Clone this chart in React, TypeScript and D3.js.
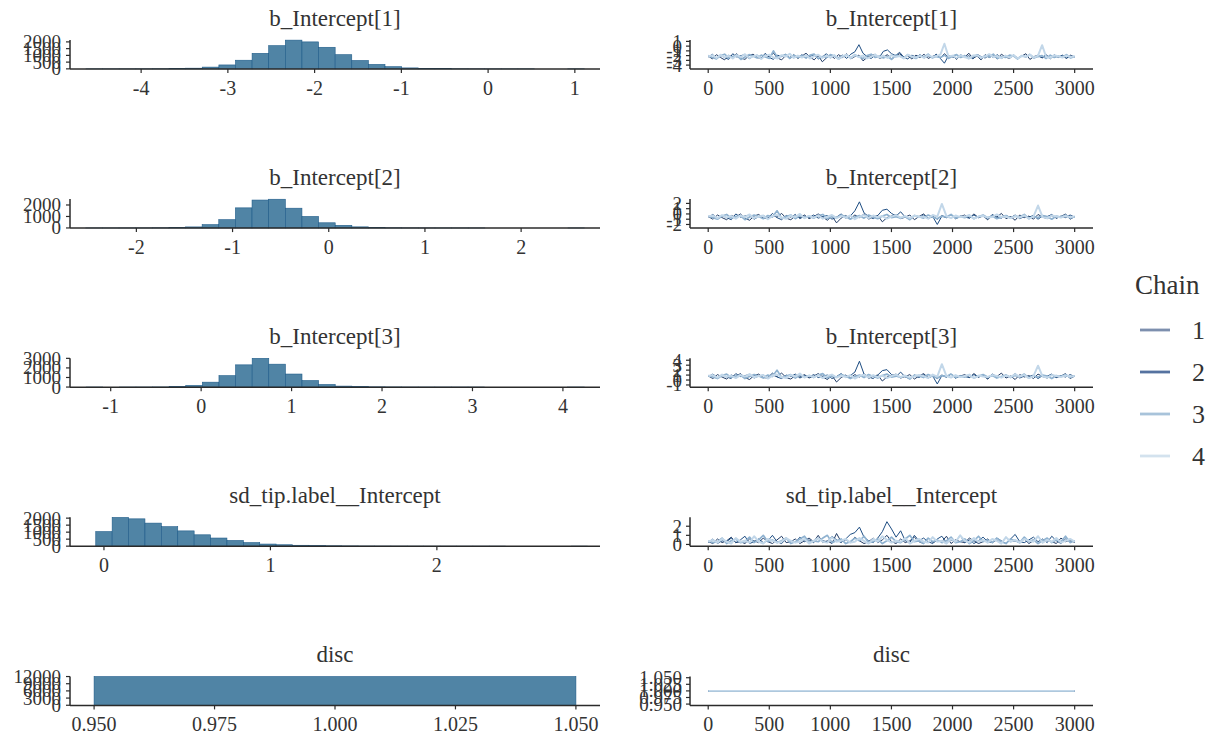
import React from "react";
import * as d3 from "d3";

const W = 1215;
const H = 740;

const paramNames = ["b_Intercept[1]", "b_Intercept[2]", "b_Intercept[3]", "sd_tip.label__Intercept", "disc"];
const chainLabels = ["1", "2", "3", "4"];
const chainColors = ["#203b66", "#1c4c82", "#8fb2d0", "#c2d7e9"];
const chainWidths = [1.0, 1.0, 1.7, 2.0];
const legendColors = ["#7d8fae", "#5572a0", "#a8c3da", "#d3e2ee"];

// axis domains of each parameter (x of histogram, y of trace)
const paramDomains = [[-4.82, 1.29], [-2.69, 2.82], [-1.45, 4.41], [-0.204, 2.98], [0.945, 1.055]];
const binStarts = [-4.54, -2.44, -1.18, 0.0, 1.0];
const binWidths = [0.1915, 0.1729, 0.1836, 0.0985, 0.1];

const countsB1 = [1, 2, 3, 5, 10, 20, 50, 130, 290, 640, 1150, 1720, 2130, 2000, 1600, 1050, 620, 330, 160, 70, 35, 15, 8, 4, 2, 1, 1, 0, 0, 1];
const countsB2 = [1, 1, 3, 6, 15, 35, 90, 290, 720, 1750, 2430, 2500, 1720, 1000, 450, 230, 95, 40, 15, 7, 3, 2, 1, 1, 0, 0, 0, 0, 0, 1];
const countsB3 = [1, 0, 1, 3, 10, 40, 170, 510, 1190, 2320, 3000, 2390, 1360, 680, 270, 100, 45, 20, 10, 5, 3, 2, 1, 1, 0, 0, 0, 0, 0, 1];
const countsSd = [1040, 2050, 1950, 1645, 1390, 1090, 810, 580, 405, 255, 150, 100, 63, 38, 25, 16, 10, 7, 5, 3, 2, 2, 1, 1, 1, 0, 0, 0, 0, 1];
const countsDisc = [12000];
const histCounts = [countsB1, countsB2, countsB3, countsSd, countsDisc];

const histXTicks = [[-4, -3, -2, -1, 0, 1], [-2, -1, 0, 1, 2], [-1, 0, 1, 2, 3, 4], [0, 1, 2], [0.95, 0.975, 1.0, 1.025, 1.05]];
const histYTicks = [[0, 500, 1000, 1500, 2000], [0, 1000, 2000], [0, 1000, 2000, 3000], [0, 500, 1000, 1500, 2000], [0, 3000, 6000, 9000, 12000]];
const traceXTicks = [0, 500, 1000, 1500, 2000, 2500, 3000];
const nIter = 3000;

// trace values per chain, read along the 3000 iterations
const b1C1 = [-2.1,-2.7,-1.8,-2.4,-2.9,-1.9,-2.3,-1.6,-2.5,-2.8,-2.0,-1.7,-2.4,-2.6,-1.9,-2.2,-1.5,-2.5,-2.9,-2.0,-2.4,-1.8,-2.6,-2.1,-1.5,-2.3,-2.9,-2.0,-3.3,-2.5,-1.9,-2.6,-1.8,-2.4,-1.6,-2.7,-2.2,-1.9,-3.1,-2.4,-2.0,-1.7,-2.6,-2.3,-1.8,-2.8,-2.1,-1.6,-2.5,-2.0,-2.7,-1.9,-2.4,-1.7,-2.6,-2.2,-1.8,-2.5,-1.6,-2.4,-2.0,-2.8,-1.9,-2.3,-1.5,-2.6,-2.1,-2.9,-1.8,-2.4,-2.0,-2.7,-1.7,-2.3,-2.6,-1.9,-2.5,-2.1,-1.6,-2.8,-2.2,-1.9,-2.5,-2.0,-2.7,-1.8,-2.4,-2.1,-2.6,-1.9,-2.3];
const b1C2 = [-2.3,-1.7,-2.6,-1.9,-2.4,-2.8,-1.6,-2.3,-2.0,-1.8,-2.7,-2.1,-1.9,-2.5,-1.5,-2.4,-2.8,-1.9,-2.2,-1.7,-2.6,-2.0,-2.4,-1.8,-2.5,-2.1,-1.9,-2.7,-2.3,-1.6,-2.5,-2.0,-2.4,-1.9,-2.6,-1.7,-1.2,0.3,-1.5,-2.2,-2.6,-1.9,-2.4,-1.1,-0.8,-1.6,-2.0,-1.3,-2.3,-2.7,-1.9,-2.3,-1.8,-2.5,-2.1,-2.4,-1.7,-2.6,-3.6,-2.0,-2.3,-2.5,-1.8,-2.4,-2.0,-2.7,-1.7,-2.2,-2.5,-1.9,-2.4,-1.8,-2.6,-2.1,-2.3,-1.9,-2.7,-2.0,-2.2,-1.7,-2.5,-2.1,-2.4,-1.8,-2.6,-2.0,-2.3,-1.9,-2.5,-2.1,-2.2];
const b1C3 = [-2.0,-2.4,-2.7,-2.0,-1.7,-2.5,-2.2,-1.9,-2.8,-2.3,-1.8,-2.1,-2.5,-1.9,-2.3,-2.6,-1.0,-2.4,-2.1,-1.8,-2.6,-1.9,-2.4,-2.0,-2.5,-1.9,-1.7,-2.6,-2.2,-2.4,-1.8,-2.1,-2.7,-2.2,-1.9,-2.5,-1.8,-2.3,-2.6,-2.0,-1.7,-2.4,-2.1,-2.5,-2.2,-2.8,-1.9,-2.1,-2.5,-1.8,-2.3,-2.6,-2.0,-2.3,-1.7,-2.5,-2.2,-2.4,-1.9,-2.6,-2.1,-1.8,-2.4,-2.0,-2.6,-2.2,-1.9,-2.5,-2.0,-2.3,-1.7,-2.6,-2.2,-2.4,-1.9,-2.1,-2.7,-2.0,-2.3,-1.8,-2.5,-2.2,-2.0,-2.6,-1.9,-2.4,-2.1,-2.3,-1.8,-2.5,-2.2];
const b1C4 = [-2.2,-1.9,-2.5,-1.8,-2.4,-2.0,-2.6,-1.9,-2.3,-1.7,-2.5,-2.2,-1.9,-2.7,-2.0,-1.8,-2.4,-2.6,-1.9,-2.2,-1.6,-2.5,-2.0,-2.4,-1.9,-2.6,-2.1,-1.8,-2.5,-2.0,-2.4,-1.9,-2.7,-2.1,-1.8,-2.5,-1.9,-2.3,-2.0,-2.6,-2.2,-1.8,-2.4,-2.0,-2.5,-1.9,-2.3,-2.1,-2.6,-1.8,-2.2,-2.4,-2.0,-2.5,-1.9,-2.3,-2.1,-1.8,0.5,-2.2,-2.0,-2.5,-1.9,-2.3,-2.6,-2.0,-1.9,-2.4,-2.2,-1.7,-2.3,-2.1,-2.5,-2.0,-2.4,-1.9,-2.6,-2.1,-2.2,-1.8,-2.4,-2.0,0.2,-2.3,-2.5,-1.9,-2.2,-2.4,-2.0,-2.3,-2.1];

const b2C1 = [-0.5,-1.0,-0.2,-0.7,-1.1,-0.3,-0.6,0.0,-0.8,-1.2,-0.4,-0.1,-0.8,-0.9,-0.3,-0.6,0.1,-0.8,-1.1,-0.4,-0.7,-0.2,-0.9,-0.5,0.0,-0.6,-1.2,-0.4,-1.7,-0.8,-0.3,-0.9,-0.2,-0.7,0.0,-1.0,-0.5,-0.3,-1.5,-0.7,-0.4,-0.1,-0.9,-0.6,-0.2,-1.1,-0.5,0.0,-0.8,-0.4,-1.0,-0.3,-0.7,-0.1,-0.9,-0.5,-0.2,-0.8,0.0,-0.7,-0.4,-1.1,-0.3,-0.6,0.1,-0.9,-0.5,-1.2,-0.2,-0.7,-0.4,-1.0,-0.1,-0.6,-0.9,-0.3,-0.8,-0.5,0.0,-1.0,-0.5];
const b2C2 = [-0.6,-0.1,-0.9,-0.3,-0.7,-1.1,0.0,-0.6,-0.4,-0.2,-1.0,-0.5,-0.3,-0.8,0.1,-0.7,-1.1,-0.3,-0.6,-0.1,-0.9,-0.4,-0.7,-0.2,-0.8,-0.5,-0.3,-1.0,-0.6,0.0,-0.8,-0.4,0.6,2.3,0.2,-0.5,-0.9,-0.3,0.7,0.9,0.1,-0.4,0.4,-0.6,-1.0,-0.3,-0.7,-0.2,-0.9,-0.5,-2.0,-0.4,-0.7,-0.1,-0.9,-0.4,-0.6,-0.8,-0.2,-0.7,-0.3,-1.0,-0.1,-0.6,-0.8,-0.3,-0.7,-0.2,-0.9,-0.5,-0.6,-0.3,-1.0,-0.4,-0.5,-0.1,-0.8,-0.4,-0.7,-0.2,-0.6];
const b2C3 = [-0.4,-0.7,-1.0,-0.4,-0.1,-0.8,-0.5,-0.3,-1.1,-0.6,-0.2,-0.5,-0.9,-0.3,-0.6,0.6,-0.8,-0.5,-0.2,-0.9,-0.3,-0.7,-0.4,-0.8,-0.3,-0.1,-0.9,-0.5,-0.7,-0.2,-0.5,-1.0,-0.6,-0.3,-0.8,-0.2,-0.6,-0.9,-0.4,-0.1,-0.7,-0.5,-0.8,-0.5,-1.1,-0.3,-0.5,-0.8,-0.2,-0.6,-0.9,-0.4,-0.6,-0.1,-0.8,-0.5,-0.7,-0.3,-0.9,-0.5,-0.2,-0.7,-0.4,-0.9,-0.6,-0.3,-0.8,-0.4,-0.6,-0.1,-0.9,-0.5,-0.7,-0.3,-0.5,-1.0,-0.4,-0.6,-0.2,-0.8,-0.5];
const b2C4 = [-0.5,-0.3,-0.8,-0.2,-0.7,-0.4,-0.9,-0.3,-0.6,-0.1,-0.8,-0.5,-0.3,-1.0,-0.4,-0.2,-0.7,-0.9,-0.3,-0.6,0.0,-0.8,-0.4,-0.7,-0.3,-0.9,-0.5,-0.2,-0.8,-0.4,-0.7,-0.3,-1.0,-0.5,-0.2,-0.8,-0.3,-0.6,-0.4,-0.9,-0.5,-0.2,-0.7,-0.4,-0.8,-0.3,-0.6,-0.5,-0.9,-0.2,-0.5,1.9,-0.4,-0.8,-0.3,-0.6,-0.5,-0.2,-0.9,-0.5,-0.4,-0.7,-0.6,-0.1,-0.6,-0.5,-0.8,-0.4,-0.7,-0.3,-0.9,-0.5,1.6,-0.6,-0.8,-0.3,-0.5,-0.7,-0.4,-0.6,-0.5];

const b3C1 = [0.8,0.3,1.1,0.6,0.2,1.0,0.7,1.3,0.5,0.1,0.9,1.2,0.5,0.4,1.0,0.7,1.4,0.5,0.2,0.9,0.6,1.1,0.4,0.8,1.3,0.6,0.1,0.9,-0.4,0.5,1.0,0.4,1.1,0.6,1.3,0.3,0.8,1.0,-0.2,0.6,0.9,1.2,0.4,0.7,1.1,0.2,0.8,1.3,0.5,0.9,0.3,1.0,0.6,1.2,0.4,0.8,1.1,0.5,1.3,0.6,0.9,0.2,1.0,0.7,1.4,0.4,0.8,0.1,1.1,0.6,0.9,0.3,1.2,0.7,0.4,1.0,0.5,0.8,1.3,0.3,0.8];
const b3C2 = [0.7,1.2,0.5,1.0,0.6,0.3,1.3,0.7,0.9,1.1,0.4,0.8,1.0,0.5,1.4,0.6,0.3,1.0,0.7,1.2,0.4,0.9,0.6,1.1,0.5,0.8,1.0,0.3,0.7,1.3,0.5,0.9,1.6,3.8,1.2,0.6,0.3,1.0,1.9,2.1,1.1,0.7,1.6,0.6,0.3,1.0,0.5,1.1,0.4,0.8,-0.8,0.9,0.6,1.2,0.4,0.9,0.7,0.5,1.1,0.6,1.0,0.3,1.2,0.7,0.5,1.0,0.6,1.3,0.4,0.8,0.7,1.0,0.3,0.9,0.8,1.2,0.5,0.9,0.6,1.1,0.7];
const b3C3 = [0.9,0.6,0.3,0.9,1.2,0.5,0.8,1.0,0.3,0.7,1.1,0.8,0.4,1.0,0.7,2.0,0.5,0.8,1.1,0.4,1.0,0.6,0.9,0.5,1.0,1.3,0.4,0.8,0.6,1.1,0.8,0.3,0.7,1.0,0.5,1.1,0.7,0.4,0.9,1.2,0.6,0.8,0.5,0.8,0.2,1.0,0.8,0.5,1.1,0.7,0.4,0.9,0.7,1.2,0.5,0.8,0.6,1.0,0.4,0.8,1.1,0.6,0.9,0.4,0.7,1.0,0.5,0.9,0.7,1.2,0.4,0.8,0.6,1.0,0.8,0.3,0.9,0.7,1.1,0.5,0.8];
const b3C4 = [0.8,1.0,0.5,1.1,0.6,0.9,0.4,1.0,0.7,1.2,0.5,0.8,1.0,0.3,0.9,1.1,0.6,0.4,1.0,0.7,1.3,0.5,0.9,0.6,1.0,0.4,0.8,1.1,0.5,0.9,0.6,1.0,0.3,0.8,1.1,0.5,1.0,0.6,0.9,0.4,0.8,1.1,0.6,0.9,0.5,0.7,1.0,0.8,0.4,1.1,0.7,3.2,0.8,0.5,1.0,0.6,0.8,1.1,0.4,0.9,0.7,0.6,1.0,0.8,0.5,0.9,0.6,1.2,0.7,1.0,0.4,0.8,2.9,0.7,0.5,1.0,0.8,0.6,0.9,0.7,0.8];

const sdC1 = [0.3,0.1,0.6,0.2,0.4,0.8,0.2,0.3,0.1,0.6,0.4,0.2,0.7,0.3,0.1,0.5,0.9,0.2,0.3,0.6,0.1,0.4,0.7,0.3,1.0,0.2,0.4,0.1,1.2,0.3,0.5,0.2,0.8,0.4,0.1,0.3,0.7,0.2,0.5,1.0,0.3,0.1,0.6,0.2,0.4,0.8,0.3,0.1,0.7,0.2,0.4,0.3,0.9,0.1,0.5,0.3,0.2,0.7,0.4,0.1,0.3,0.6,0.2,0.5,0.1,0.8,0.3,0.4,0.2,0.6,0.1,0.4,0.9,0.2,0.5,0.3,0.1,0.7,0.3,0.5,0.2];
const sdC2 = [0.2,0.6,0.1,0.4,0.3,0.7,0.2,0.5,0.9,0.1,0.3,0.6,0.2,0.4,1.0,0.3,0.1,0.6,0.4,0.2,0.8,0.3,0.5,0.2,0.7,0.4,0.3,0.9,0.5,0.2,0.6,1.1,1.3,1.9,0.8,0.4,0.2,0.7,1.4,2.5,1.7,0.8,1.5,0.4,0.2,1.0,0.4,0.7,0.3,0.1,0.6,0.9,0.2,0.5,0.3,1.0,0.2,0.5,0.1,0.4,0.8,0.3,0.2,0.7,0.4,0.1,0.6,1.1,0.3,0.2,0.5,0.8,0.3,0.6,0.2,0.9,0.4,0.1,0.6,0.3,0.4];
const sdC3 = [0.4,0.2,0.3,0.7,0.1,0.4,0.6,0.2,0.3,0.8,0.2,0.5,1.0,0.3,0.5,0.2,0.4,0.7,0.1,0.3,0.6,0.9,0.2,0.4,0.3,0.7,1.0,0.2,0.4,0.6,0.1,0.3,0.7,0.4,0.9,0.2,0.3,0.6,0.1,0.4,0.8,0.3,0.2,0.6,1.0,0.3,0.4,0.1,0.7,0.3,0.5,0.2,0.4,0.8,0.2,0.3,0.6,0.1,0.4,0.9,0.3,0.5,0.2,0.7,0.3,0.1,0.6,0.4,0.2,0.8,0.3,0.5,0.1,0.4,0.7,0.2,0.5,0.3,0.9,0.2,0.4];
const sdC4 = [0.3,0.5,0.2,0.6,0.3,0.1,0.7,0.3,0.4,0.2,0.9,0.3,0.1,0.6,0.4,0.2,0.3,0.7,0.4,0.2,0.3,0.6,0.1,0.4,0.7,0.3,0.2,0.8,0.3,0.4,0.6,0.2,0.3,0.7,0.4,0.1,0.6,0.3,0.9,0.5,0.2,0.4,0.3,0.7,0.1,0.4,0.6,0.3,0.2,0.8,0.3,0.4,0.1,0.6,0.3,1.0,0.4,0.2,0.7,0.3,0.5,0.2,0.6,0.4,0.1,0.8,0.3,0.5,0.2,0.6,0.4,0.3,0.9,0.2,0.5,0.3,0.7,0.2,0.4,0.6,0.3];

const discC1 = [1, 1];
const discC2 = [1, 1];
const discC3 = [1, 1];
const discC4 = [1, 1];

const traces = [
  [b1C1, b1C2, b1C3, b1C4],
  [b2C1, b2C2, b2C3, b2C4],
  [b3C1, b3C2, b3C3, b3C4],
  [sdC1, sdC2, sdC3, sdC4],
  [discC1, discC2, discC3, discC4],
];

const FONT = "'Liberation Serif', 'DejaVu Serif', serif";
const TXT = "#333333";
const AX = "#2b2b2b";

const histX0 = 70, histX1 = 600;
const trX0 = 690, trX1 = 1093;
const rowStep = 159.1;
const panelTop0 = 40, panelBot0 = 69, titleY0 = 18;

function fmtTick(v: number, r: number) {
  if (r === 4) return d3.format(".3f")(v);
  return String(v);
}

function Row({ r }: { r: number }) {
  const top = panelTop0 + r * rowStep;
  const bot = panelBot0 + r * rowStep;
  const titleY = titleY0 + r * rowStep;
  const dom = paramDomains[r];
  const counts = histCounts[r];
  const maxC = d3.max(counts) as number;
  const hx = d3.scaleLinear().domain(dom).range([histX0, histX1]);
  const hy = d3.scaleLinear().domain([-0.005 * maxC, maxC * 1.005]).range([bot, top]);
  const tx = d3.scaleLinear().domain([-149, 3150]).range([trX0, trX1]);
  const ty = d3.scaleLinear().domain(dom).range([bot, top]);
  const bins = counts.map((c, i) => {
    const center = binStarts[r] + i * binWidths[r];
    return { x0: center - binWidths[r] / 2, x1: center + binWidths[r] / 2, c };
  });
  const line = d3.line<number>();
  const tickLen = 4;
  return (
    <g>
      {/* histogram */}
      <text x={(histX0 + histX1) / 2} y={titleY} textAnchor="middle" dominantBaseline="central" fontSize={23} fill={TXT}>{paramNames[r]}</text>
      {bins.map((b, i) => (
        <rect key={i} x={hx(b.x0)} y={hy(b.c)} width={hx(b.x1) - hx(b.x0)} height={Math.max(0, hy(0) - hy(b.c))}
          fill="#5084a5" stroke="#1e5b89" strokeWidth={0.6} />
      ))}
      <line x1={histX0} x2={histX1} y1={bot} y2={bot} stroke={AX} strokeWidth={1.5} />
      <line x1={histX0} x2={histX0} y1={top} y2={bot} stroke={AX} strokeWidth={1.5} />
      {histXTicks[r].map((t, i) => (
        <g key={i}>
          <line x1={hx(t)} x2={hx(t)} y1={bot} y2={bot + tickLen} stroke={AX} strokeWidth={1.2} />
          <text x={hx(t)} y={bot + 19} textAnchor="middle" dominantBaseline="central" fontSize={20} fill={TXT}>{fmtTick(t, r)}</text>
        </g>
      ))}
      {histYTicks[r].map((t, i) => (
        <g key={i}>
          <line x1={histX0 - tickLen} x2={histX0} y1={hy(t)} y2={hy(t)} stroke={AX} strokeWidth={1.2} />
          <text x={histX0 - 9} y={hy(t)} textAnchor="end" dominantBaseline="central" fontSize={19} fill={TXT}>{t}</text>
        </g>
      ))}
      {/* trace */}
      <text x={(trX0 + trX1) / 2} y={titleY} textAnchor="middle" dominantBaseline="central" fontSize={23} fill={TXT}>{paramNames[r]}</text>
      {traces[r].map((vals, ci) => {
        const pts: [number, number][] = vals.map((v, i) => [tx(1 + (i * (nIter - 1)) / (vals.length - 1)), ty(v)]);
        return <path key={ci} d={line(pts) || ""} fill="none" stroke={chainColors[ci]} strokeWidth={r === 4 ? 1.8 : chainWidths[ci]} strokeLinejoin="round" />;
      })}
      <line x1={trX0} x2={trX1} y1={bot} y2={bot} stroke={AX} strokeWidth={1.5} />
      <line x1={trX0} x2={trX0} y1={top} y2={bot} stroke={AX} strokeWidth={1.5} />
      {traceXTicks.map((t, i) => (
        <g key={i}>
          <line x1={tx(t)} x2={tx(t)} y1={bot} y2={bot + tickLen} stroke={AX} strokeWidth={1.2} />
          <text x={tx(t)} y={bot + 19} textAnchor="middle" dominantBaseline="central" fontSize={20} fill={TXT}>{t}</text>
        </g>
      ))}
      {histXTicks[r].map((t, i) => (
        <g key={i}>
          <line x1={trX0 - tickLen} x2={trX0} y1={ty(t)} y2={ty(t)} stroke={AX} strokeWidth={1.2} />
          <text x={trX0 - 8} y={ty(t)} textAnchor="end" dominantBaseline="central" fontSize={19} fill={TXT}>{fmtTick(t, r)}</text>
        </g>
      ))}
    </g>
  );
}

export default function App() {
  return (
    <svg width={W} height={H} style={{ position: "absolute", left: 0, top: 0, background: "#fff" }} fontFamily={FONT}>
      <rect x={0} y={0} width={W} height={H} fill="#ffffff" />
      {paramNames.map((_, r) => <Row key={r} r={r} />)}
      <g>
        <text x={1135} y={285} dominantBaseline="central" fontSize={27} fill={TXT}>Chain</text>
        {chainLabels.map((lab, i) => (
          <g key={i}>
            <line x1={1140} x2={1170} y1={330 + i * 42} y2={330 + i * 42} stroke={legendColors[i]} strokeWidth={2.8} />
            <text x={1192} y={330 + i * 42} dominantBaseline="central" fontSize={26} fill={TXT}>{lab}</text>
          </g>
        ))}
      </g>
    </svg>
  );
}
